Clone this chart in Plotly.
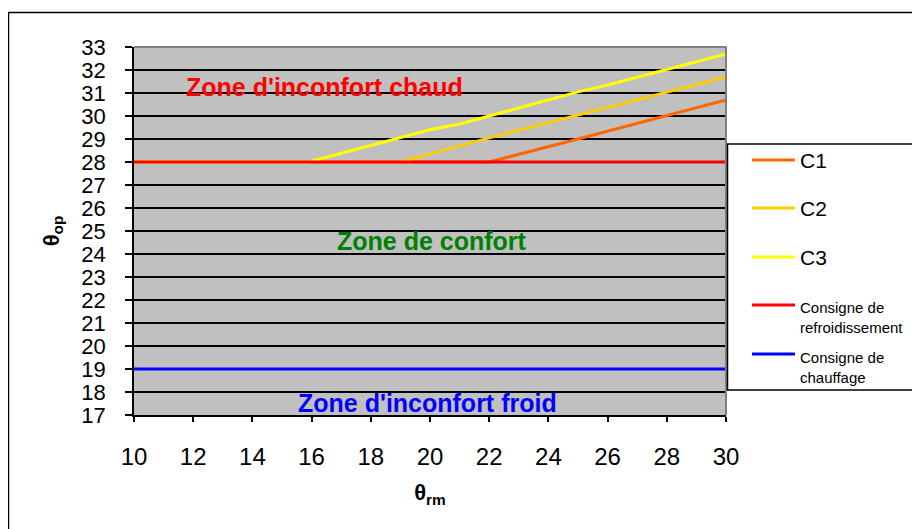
import plotly.graph_objects as go

# ---- data ----
theta_rm_c1 = [10, 22, 25, 30]
theta_op_c1 = [28, 28, 29.0, 30.7]
theta_rm_c2 = [10, 19, 22, 25, 30]
theta_op_c2 = [28, 28, 29.05, 30.05, 31.7]
theta_rm_c3 = [10, 15.9, 20, 21, 25, 26, 30]
theta_op_c3 = [28, 28, 29.4, 29.65, 31.05, 31.35, 32.7]
theta_rm_setpoints = [10, 30]
cooling_setpoint = [28, 28]
heating_setpoint = [19, 19]

series_names = ["C1", "C2", "C3", "Consigne de<br>refroidissement", "Consigne de<br>chauffage"]
series_colors = ["#FF6600", "#FFCC00", "#FFFF00", "#FF0000", "#0000FF"]

x_ticks = list(range(10, 31, 2))
y_ticks = list(range(17, 34))

zone_labels = ["Zone d'inconfort chaud", "Zone de confort", "Zone d'inconfort froid"]
zone_x = [16.42, 20.07, 19.93]
zone_y = [31.26, 24.57, 17.52]
zone_colors = ["#FF0000", "#008000", "#0000FF"]

# ---- layout geometry (page pixels; the page body adds an 8px offset) ----
OFF = 8
W, H = 920 - OFF, 529 - OFF
L, R, T, B = 134 - OFF, 726 - OFF, 47 - OFF, 415 - OFF
pw, ph = R - L, B - T


def px(xp):
    return (xp - OFF - L) / pw


def py(yp):
    return (B - (yp - OFF)) / ph


FONT = "Arial, Liberation Sans, Helvetica, sans-serif"

fig = go.Figure()
xs_all = [theta_rm_c1, theta_rm_c2, theta_rm_c3, theta_rm_setpoints, theta_rm_setpoints]
ys_all = [theta_op_c1, theta_op_c2, theta_op_c3, cooling_setpoint, heating_setpoint]
for xs, ys, name, col in zip(xs_all, ys_all, series_names, series_colors):
    fig.add_trace(go.Scatter(x=xs, y=ys, mode="lines", name=name.replace("<br>", " "),
                             line=dict(color=col, width=3), showlegend=False))

shapes = []
# outer chart border
shapes.append(dict(type="rect", xref="paper", yref="paper",
                   x0=px(8.5), x1=px(960), y0=py(12.5), y1=py(560),
                   line=dict(color="black", width=1.5), fillcolor="rgba(0,0,0,0)", layer="below"))
# plot-area border (top and right in grey)
shapes.append(dict(type="path", xref="paper", yref="paper",
                   path="M 0,1 L 1,1 L 1,0",
                   line=dict(color="#808080", width=2), layer="above"))
# legend box
shapes.append(dict(type="rect", xref="paper", yref="paper",
                   x0=px(727.5), x1=px(960), y0=py(144), y1=py(390),
                   line=dict(color="black", width=1.5), fillcolor="white", layer="above"))

annotations = []
leg_line_y = [160, 208, 257, 305, 354]
leg_text_y = [160, 208, 257, 317, 367]
leg_font = [21, 21, 21, 15, 15]
for name, col, ly, ty, fs in zip(series_names, series_colors, leg_line_y, leg_text_y, leg_font):
    shapes.append(dict(type="line", xref="paper", yref="paper",
                       x0=px(752), x1=px(795), y0=py(ly), y1=py(ly),
                       line=dict(color=col, width=3), layer="above"))
    annotations.append(dict(x=px(798), y=py(ty), xref="paper", yref="paper",
                            text=name, showarrow=False, xanchor="left", yanchor="middle",
                            align="left", font=dict(family=FONT, size=fs, color="black")))

for txt, zx, zy, zc in zip(zone_labels, zone_x, zone_y, zone_colors):
    annotations.append(dict(x=zx, y=zy, xref="x", yref="y", text=f"<b>{txt}</b>",
                            showarrow=False, xanchor="center", yanchor="middle",
                            font=dict(family=FONT, size=25, color=zc)))

fig.update_layout(
    width=W, height=H,
    margin=dict(l=L, r=W - R, t=T, b=H - B, pad=0),
    paper_bgcolor="white",
    plot_bgcolor="#C0C0C0",
    showlegend=False,
    shapes=shapes,
    annotations=annotations,
    font=dict(family=FONT, color="black"),
)
fig.update_xaxes(range=[10, 30], tickvals=x_ticks, ticktext=[str(v) for v in x_ticks],
                 showgrid=False, zeroline=False,
                 showline=True, linecolor="black", linewidth=1.5,
                 ticks="outside", ticklen=5, tickcolor="black", tickwidth=1.5,
                 tickfont=dict(family=FONT, size=24, color="black"),
                 ticklabelstandoff=14,
                 title=dict(text="<b>θ<sub>rm</sub></b>", font=dict(family=FONT, size=22, color="black"),
                            standoff=16),
                 automargin=False)
fig.update_yaxes(range=[17, 33], tickvals=y_ticks, ticktext=[str(v) for v in y_ticks],
                 showgrid=True, gridcolor="black", gridwidth=1.5, zeroline=False,
                 showline=True, linecolor="black", linewidth=1.5,
                 ticks="outside", ticklen=7, tickcolor="black", tickwidth=1.5,
                 tickfont=dict(family=FONT, size=22, color="black"),
                 ticklabelstandoff=15,
                 title=dict(text="<b>θ<sub>op</sub></b>", font=dict(family=FONT, size=22, color="black"),
                            standoff=16),
                 automargin=False)

fig.write_html("out.html")
